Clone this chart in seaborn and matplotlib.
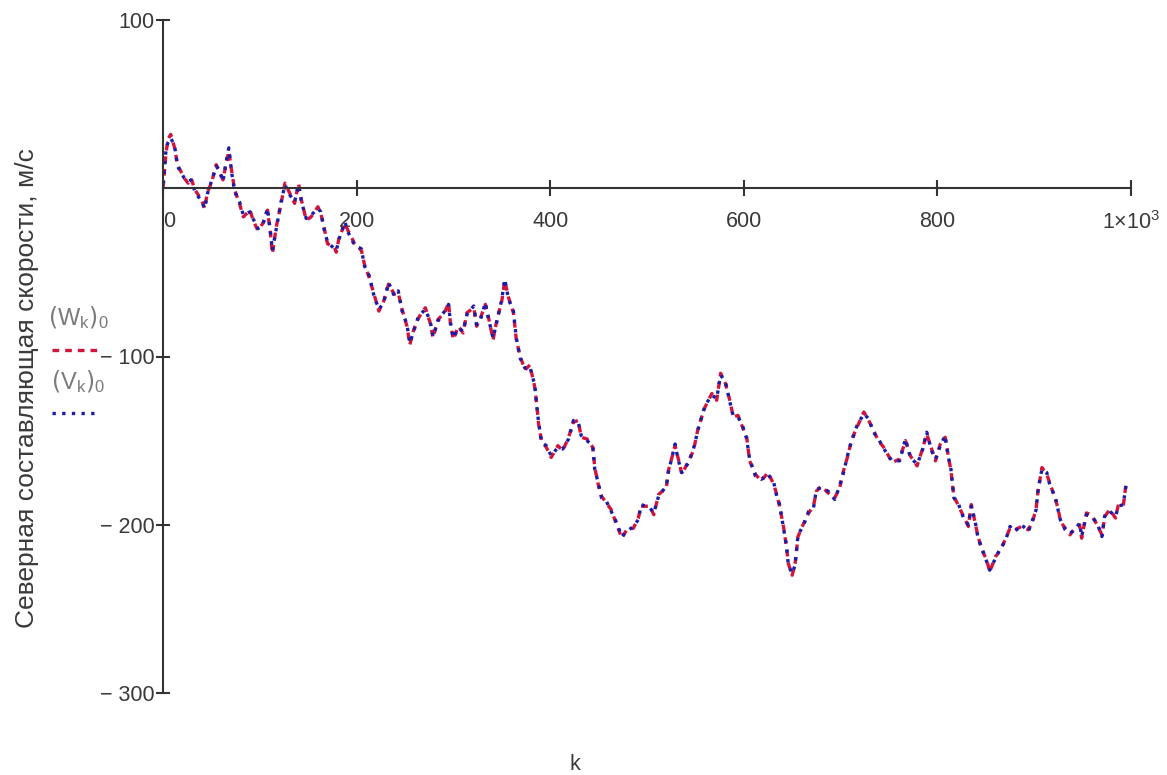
import matplotlib
matplotlib.use("Agg")
import matplotlib.pyplot as plt
from matplotlib.lines import Line2D
import numpy as np
import pandas as pd
import seaborn as sns

# ---------------- data ----------------
k_vals = [
    0, 3, 5, 8, 12, 15, 22, 26, 29, 33,
    40, 43, 46, 50, 55, 58, 62, 65, 68, 71,
    74, 79, 83, 90, 93, 98, 103, 108, 111, 113,
    117, 122, 126, 131, 136, 140, 143, 148, 153, 160,
    163, 167, 170, 177, 179, 182, 188, 191, 198, 205,
    208, 213, 218, 223, 228, 233, 239, 243, 247, 252,
    255, 259, 264, 271, 276, 279, 284, 291, 295, 297,
    300, 305, 310, 314, 321, 324, 328, 333, 336, 341,
    345, 350, 353, 357, 362, 365, 369, 374, 379, 384,
    386, 388, 391, 396, 401, 408, 413, 419, 424, 429,
    432, 438, 444, 446, 450, 453, 458, 463, 468, 474,
    479, 486, 491, 494, 503, 507, 512, 520, 522, 529,
    532, 536, 543, 548, 553, 560, 567, 572, 576, 581,
    586, 589, 594, 598, 603, 606, 612, 618, 625, 631,
    634, 637, 641, 644, 646, 650, 653, 656, 662, 667,
    672, 675, 680, 687, 694, 699, 703, 708, 711, 717,
    724, 729, 734, 739, 746, 753, 761, 767, 772, 779,
    784, 789, 794, 798, 803, 808, 811, 814, 817, 822,
    827, 832, 835, 839, 842, 846, 851, 854, 860, 865,
    870, 875, 880, 887, 894, 899, 902, 904, 908, 913,
    916, 922, 925, 927, 932, 937, 942, 947, 949, 954,
    959, 965, 970, 973, 978, 984, 987, 992, 995,
]
w_vals = [
    0, 20, 29, 32, 24, 14, 6, 3, 6, -1,
    -7, -12, -2, 3, 14, 10, 5, 14, 22, 10,
    -1, -9, -17, -13, -19, -25, -21, -13, -27, -39,
    -23, -9, 3, -3, -9, 3, -7, -19, -17, -11,
    -15, -25, -33, -35, -38, -29, -21, -25, -33, -37,
    -45, -53, -63, -73, -67, -57, -63, -62, -72, -82,
    -93, -84, -77, -71, -80, -89, -78, -74, -68, -81,
    -90, -82, -86, -74, -71, -82, -77, -69, -76, -90,
    -78, -67, -55, -65, -74, -90, -100, -108, -105, -118,
    -128, -140, -150, -154, -160, -153, -156, -148, -139, -138,
    -148, -149, -154, -166, -177, -183, -187, -191, -199, -208,
    -203, -202, -196, -189, -189, -194, -182, -178, -168, -153,
    -160, -170, -162, -156, -142, -130, -122, -126, -110, -116,
    -127, -136, -135, -141, -148, -162, -170, -174, -169, -176,
    -182, -189, -201, -213, -223, -230, -223, -207, -199, -193,
    -189, -180, -177, -181, -184, -178, -168, -158, -150, -142,
    -133, -138, -144, -150, -155, -163, -161, -150, -159, -165,
    -156, -146, -155, -162, -152, -148, -158, -168, -183, -189,
    -195, -201, -188, -199, -207, -215, -221, -228, -219, -215,
    -209, -202, -203, -201, -203, -197, -190, -180, -166, -170,
    -175, -185, -191, -198, -202, -206, -202, -200, -208, -193,
    -194, -200, -206, -195, -191, -196, -188, -189, -175,
]
v_vals = [
    0, 22, 27, 30, 25, 13, 6, 4, 5, -2,
    -8, -12, -3, 4, 13, 11, 4, 15, 24, 9,
    -2, -8, -16, -14, -18, -24, -22, -12, -26, -37,
    -24, -8, 2, -4, -8, 2, -8, -18, -16, -12,
    -14, -26, -32, -36, -37, -30, -20, -26, -34, -36,
    -46, -52, -64, -72, -68, -56, -64, -61, -73, -81,
    -92, -85, -76, -72, -79, -88, -79, -73, -69, -80,
    -89, -83, -85, -75, -70, -81, -78, -68, -77, -89,
    -79, -66, -54, -66, -73, -89, -101, -107, -106, -117,
    -129, -139, -151, -153, -159, -154, -155, -149, -138, -139,
    -147, -150, -153, -167, -176, -184, -186, -192, -198, -207,
    -204, -201, -197, -188, -190, -193, -183, -177, -169, -152,
    -161, -169, -163, -155, -143, -129, -123, -125, -111, -115,
    -128, -135, -136, -140, -149, -161, -171, -173, -170, -175,
    -183, -188, -202, -212, -224, -229, -224, -206, -200, -192,
    -190, -179, -178, -180, -185, -177, -169, -157, -151, -141,
    -134, -137, -145, -149, -156, -162, -162, -149, -160, -164,
    -157, -145, -156, -161, -153, -147, -159, -167, -184, -188,
    -196, -200, -189, -198, -208, -214, -222, -227, -220, -214,
    -210, -201, -204, -200, -204, -196, -191, -179, -167, -169,
    -176, -184, -192, -197, -203, -205, -203, -199, -207, -194,
    -195, -199, -207, -194, -192, -195, -189, -188, -176,
]
x_ticks = [0, 200, 400, 600, 800, 1000]
x_tick_labels = ["0", "200", "400", "600", "800", "1×10$^3$"]
y_ticks = [-300, -200, -100, 100]
y_tick_labels = ["− 300", "− 200", "− 100", "100"]
y_label = "Северная составляющая скорости, м/с"
x_label = "k"

# ---------------- style ----------------
sns.set_theme(style="white")
plt.rcParams["font.family"] = ["Liberation Sans", "DejaVu Sans"]
plt.rcParams["mathtext.default"] = "regular"

RED = "#d0143c"
BLUE = "#1c1ca8"
AXC = "#333333"
TXT = "#3a3a3a"
W, H = 1167, 775
RED_LS = (0, (2.0, 1.8))
BLUE_LS = (1.5, (1.0, 1.9))

fig = plt.figure(figsize=(W / 100, H / 100), dpi=100)
ax = fig.add_axes([163 / W, 1 - 693 / H, 968 / W, 673 / H])

df = pd.DataFrame({"k": k_vals, "W": w_vals, "V": v_vals})
sns.lineplot(data=df, x="k", y="W", ax=ax, color=RED, lw=2.4,
             linestyle=RED_LS, estimator=None)
sns.lineplot(data=df, x="k", y="V", ax=ax, color=BLUE, lw=2.4,
             linestyle=BLUE_LS, estimator=None)

ax.set_xlim(0, 1000)
ax.set_ylim(-300, 100)
ax.grid(False)
for s in ("top", "right"):
    ax.spines[s].set_visible(False)
ax.spines["bottom"].set_position(("data", 0))
for s in ("left", "bottom"):
    ax.spines[s].set_color(AXC)
    ax.spines[s].set_linewidth(1.5)

ax.set_xticks(x_ticks)
ax.set_xticklabels(x_tick_labels)
ax.set_yticks(y_ticks)
ax.set_yticklabels(y_tick_labels)
ax.tick_params(axis="x", bottom=True, direction="inout", length=11, width=1.5,
               color=AXC, pad=11, labelsize=15.5, labelcolor=TXT)
ax.tick_params(axis="y", left=True, direction="inout", length=10, width=1.5,
               color=AXC, pad=1, labelsize=15.5, labelcolor=TXT)
ax.get_xticklabels()[0].set_ha("left")

ax.set_xlabel(x_label, fontsize=15.5, color=TXT, va="center")
ax.xaxis.set_label_coords((575 - 163) / 968, (693 - 764) / 673)
ax.set_ylabel(y_label, fontsize=19, color=TXT, va="center")
ax.yaxis.set_label_coords((27 - 163) / 968, (693 - 388) / 673)

# legend drawn Mathcad-style, left of the y axis
fig.text(78 / W, 1 - 318 / H, r"$\left(W_k\right)_0$", ha="center", va="center",
         fontsize=17, color="#7a7a7a")
fig.add_artist(Line2D([52 / W, 100 / W], [1 - 350 / H] * 2, transform=fig.transFigure,
                      color=RED, lw=2.4, linestyle=RED_LS))
fig.text(78 / W, 1 - 382 / H, r"$\left(V_k\right)_0$", ha="center", va="center",
         fontsize=17, color="#7a7a7a")
fig.add_artist(Line2D([52 / W, 100 / W], [1 - 413 / H] * 2, transform=fig.transFigure,
                      color=BLUE, lw=2.4, linestyle=(0, (1.0, 1.9))))

fig.savefig("out.png", dpi=100)
